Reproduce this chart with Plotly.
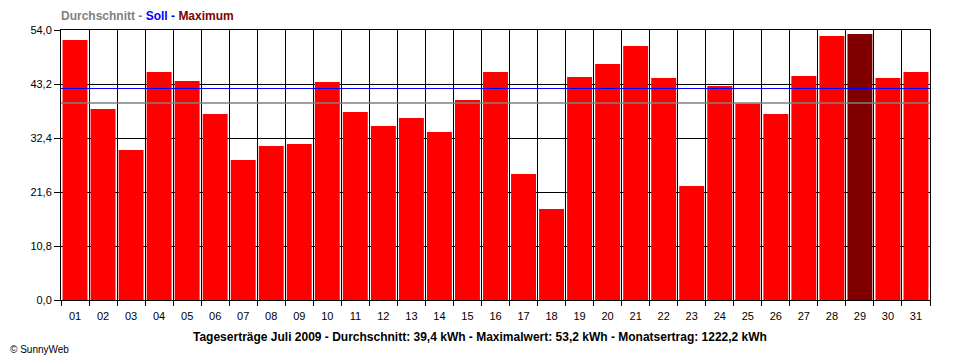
import plotly.graph_objects as go

# ---- data ----
days = [f"{d:02d}" for d in range(1, 32)]
yields_kwh = [52.0, 38.2, 30.0, 45.6, 43.8, 37.2, 28.0, 30.8, 31.2, 43.6,
              37.6, 34.8, 36.4, 33.6, 40.0, 45.6, 25.2, 18.2, 44.6, 47.2,
              50.8, 44.4, 22.8, 42.8, 39.3, 37.2, 44.8, 52.8, 53.2, 44.4, 45.6]
average_kwh = 39.4
target_kwh = 42.3
y_ticks = [0.0, 10.8, 21.6, 32.4, 43.2, 54.0]
y_tick_labels = [f"{v:.1f}".replace(".", ",") for v in y_ticks]

RED = "#ff0000"
MAXRED = "#800000"
max_idx = yields_kwh.index(max(yields_kwh))
bar_colors = [MAXRED if i == max_idx else RED for i in range(len(days))]
xpos = list(range(1, len(days) + 1))
x_edges = [0.5, len(days) + 0.5]

fig = go.Figure()
fig.add_trace(go.Bar(x=xpos, y=yields_kwh, marker=dict(color=bar_colors, line=dict(width=0)),
                     width=0.89, hoverinfo="y"))
fig.add_trace(go.Scatter(x=x_edges, y=[average_kwh] * 2, mode="lines",
                         line=dict(color="#808080", width=1.5), hoverinfo="skip"))
fig.add_trace(go.Scatter(x=x_edges, y=[target_kwh] * 2, mode="lines",
                         line=dict(color="#0000ff", width=1.2), hoverinfo="skip"))

tick_font = dict(family="Liberation Sans, Arial, sans-serif", size=11, color="black")

# page body has an 8px margin, so the figure is sized to fit the 960x360 window
fig.update_layout(
    width=952, height=352,
    margin=dict(l=53, r=30, t=22, b=60),
    paper_bgcolor="white", plot_bgcolor="white",
    showlegend=False,
    font=tick_font,
    xaxis=dict(
        range=x_edges, tickmode="array", tickvals=xpos, ticktext=days,
        ticks="", showgrid=False, zeroline=False,
        showline=True, mirror=True, linecolor="black", linewidth=1,
        tickfont=tick_font, ticklabelstandoff=6,
        minor=dict(tick0=0.5, dtick=1, showgrid=True, gridcolor="black", gridwidth=1,
                   ticks="outside", ticklen=5, tickcolor="black", tickwidth=1),
    ),
    yaxis=dict(
        range=[y_ticks[0], y_ticks[-1]], tickmode="array", tickvals=y_ticks,
        ticktext=y_tick_labels, ticks="outside", ticklen=6, tickcolor="black",
        showgrid=True, gridcolor="black", gridwidth=1, zeroline=False,
        showline=True, mirror=True, linecolor="black", linewidth=1,
        tickfont=tick_font,
    ),
    annotations=[
        dict(xref="paper", yref="paper", x=0, y=1, xanchor="left", yanchor="middle",
             xshift=-2, yshift=14, showarrow=False,
             text="<span style='color:#808080'>Durchschnitt -</span> "
                  "<span style='color:#0000ff'>Soll -</span> "
                  "<span style='color:#800000'>Maximum</span>",
             font=dict(family="Liberation Sans, Arial, sans-serif", size=12, weight="bold")),
        dict(xref="paper", yref="paper", x=0.482, y=0, xanchor="center", yanchor="middle",
             yshift=-37, showarrow=False,
             text="Tageserträge Juli 2009 - Durchschnitt: 39,4 kWh - Maximalwert: 53,2 kWh - Monatsertrag: 1222,2 kWh",
             font=dict(family="Liberation Sans, Arial, sans-serif", size=12, weight="bold", color="black")),
        dict(xref="paper", yref="paper", x=0, y=0, xanchor="left", yanchor="middle",
             xshift=-53, yshift=-49, showarrow=False, text="© SunnyWeb",
             font=dict(family="Liberation Sans, Arial, sans-serif", size=10, color="black")),
    ],
)

fig.write_html("out.html")
